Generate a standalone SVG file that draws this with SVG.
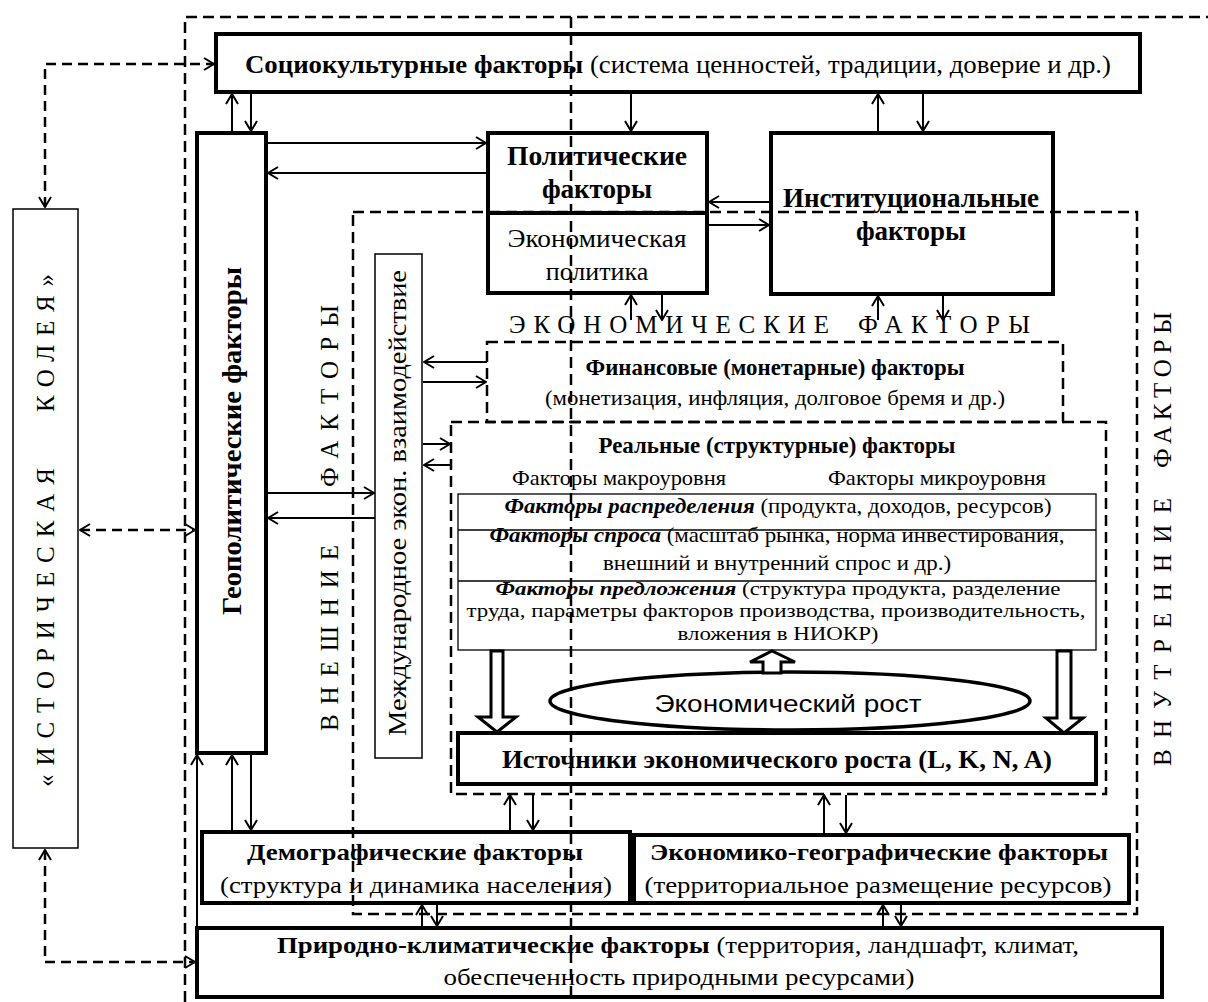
<svg xmlns="http://www.w3.org/2000/svg" width="1208" height="1002" viewBox="0 0 1208 1002">
<style>
.box{fill:none;stroke:#000;stroke-width:4}
.thin{fill:none;stroke:#000;stroke-width:1.5}
.dash{fill:none;stroke:#000;stroke-width:2.5;stroke-dasharray:11 6}
.arr{fill:none;stroke:#000;stroke-width:2;marker-end:url(#ah)}
.darr{fill:none;stroke:#000;stroke-width:2.5;stroke-dasharray:10 6;marker-start:url(#ah);marker-end:url(#ah)}
.hollow{fill:#fff;stroke:#000;stroke-width:3}
text{font-family:"Liberation Serif","Times New Roman",serif;fill:#000}
.b{font-weight:bold}
.bi{font-weight:bold;font-style:italic}
.sp{font-size:25px}
</style>
<defs>
<marker id="ah" markerUnits="userSpaceOnUse" viewBox="0 0 12 14" markerWidth="12" markerHeight="14" refX="11" refY="7" orient="auto-start-reverse">
<path d="M1,1 L11,7 L1,13" fill="none" stroke="#000" stroke-width="2" stroke-dasharray="none"/>
</marker>
</defs>
<rect width="1208" height="1002" fill="#fff"/>

<g id="regions">
<path class="dash" d="M185,1002 L185,17 L1208,17"/>
<path class="dash" d="M571,17 L571,1002"/>
<rect class="dash" x="353" y="212" width="784" height="702"/>
<rect class="dash" x="487" y="342" width="576" height="80"/>
<rect class="dash" x="451" y="422" width="655" height="372"/>
<text class="sp" transform="translate(338,731) rotate(-90)" textLength="186" lengthAdjust="spacing">ВНЕШНИЕ</text>
<text class="sp" transform="translate(338,487) rotate(-90)" textLength="182" lengthAdjust="spacing">ФАКТОРЫ</text>
<text class="sp" transform="translate(1171,766) rotate(-90)" textLength="268" lengthAdjust="spacing">ВНУТРЕННИЕ</text>
<text class="sp" transform="translate(1171,468) rotate(-90)" textLength="156" lengthAdjust="spacing">ФАКТОРЫ</text>
<text class="sp" x="509" y="333" textLength="320" lengthAdjust="spacing">ЭКОНОМИЧЕСКИЕ</text>
<text class="sp" x="858" y="333" textLength="172" lengthAdjust="spacing">ФАКТОРЫ</text>
</g>

<g id="historical">
<rect class="thin" x="13" y="209" width="65" height="639"/>
<text class="sp" transform="translate(54,787) rotate(-90)" textLength="319" lengthAdjust="spacing">«ИСТОРИЧЕСКАЯ</text>
<text class="sp" transform="translate(54,412) rotate(-90)" textLength="138" lengthAdjust="spacing">КОЛЕЯ»</text>
</g>

<g id="sociocultural">
<rect class="box" x="216" y="34" width="924" height="58"/>
<text x="245" y="73" font-size="26" textLength="866" lengthAdjust="spacingAndGlyphs"><tspan class="b">Социокультурные факторы</tspan> (система ценностей, традиции, доверие и др.)</text>
</g>

<g id="geopolitical">
<rect class="box" x="197" y="133" width="69" height="620"/>
<text class="b" font-size="27" transform="translate(241,441) rotate(-90)" text-anchor="middle" textLength="348" lengthAdjust="spacingAndGlyphs">Геополитические факторы</text>
</g>

<g id="political">
<rect class="box" x="488" y="133" width="219" height="160"/>
<line x1="488" y1="213" x2="707" y2="213" stroke="#000" stroke-width="4"/>
<text class="b" font-size="27" x="597" y="165" text-anchor="middle" textLength="180" lengthAdjust="spacingAndGlyphs">Политические</text>
<text class="b" font-size="27" x="597" y="198" text-anchor="middle">факторы</text>
<text font-size="26" x="597" y="247" text-anchor="middle" textLength="179" lengthAdjust="spacingAndGlyphs">Экономическая</text>
<text font-size="26" x="597" y="280" text-anchor="middle">политика</text>
</g>

<g id="institutional">
<rect class="box" x="771" y="133" width="282" height="161"/>
<text class="b" font-size="27" x="911" y="207" text-anchor="middle" textLength="256" lengthAdjust="spacingAndGlyphs">Институциональные</text>
<text class="b" font-size="27" x="911" y="240" text-anchor="middle">факторы</text>
</g>

<g id="international">
<rect class="thin" x="375" y="254" width="47" height="504"/>
<text font-size="25" transform="translate(406,503) rotate(-90)" text-anchor="middle" textLength="466" lengthAdjust="spacingAndGlyphs">Международное экон. взаимодействие</text>
</g>

<g id="financial">
<text class="b" font-size="23" x="775" y="375" text-anchor="middle" textLength="379" lengthAdjust="spacingAndGlyphs">Финансовые (монетарные) факторы</text>
<text font-size="22" x="775" y="405" text-anchor="middle" textLength="460" lengthAdjust="spacingAndGlyphs">(монетизация, инфляция, долговое бремя и др.)</text>
</g>

<g id="real">
<text class="b" font-size="23" x="777" y="453" text-anchor="middle" textLength="357" lengthAdjust="spacingAndGlyphs">Реальные (структурные) факторы</text>
<text font-size="22" x="512" y="485" textLength="214" lengthAdjust="spacingAndGlyphs">Факторы макроуровня</text>
<text font-size="22" x="828" y="485" textLength="218" lengthAdjust="spacingAndGlyphs">Факторы микроуровня</text>
<rect x="458" y="494" width="638" height="156" fill="none" stroke="#000" stroke-width="1.3"/>
<line x1="458" y1="530" x2="1096" y2="530" stroke="#000" stroke-width="1.3"/>
<line x1="458" y1="581" x2="1096" y2="581" stroke="#000" stroke-width="1.3"/>
<text font-size="22" x="778" y="513" text-anchor="middle" textLength="547" lengthAdjust="spacingAndGlyphs"><tspan class="bi">Факторы распределения</tspan> (продукта, доходов, ресурсов)</text>
<text font-size="22" x="777" y="542" text-anchor="middle" textLength="575" lengthAdjust="spacingAndGlyphs"><tspan class="bi">Факторы спроса</tspan> (масштаб  рынка, норма инвестирования,</text>
<text font-size="22" x="777" y="570" text-anchor="middle" textLength="348" lengthAdjust="spacingAndGlyphs">внешний и внутренний спрос и др.)</text>
<text font-size="19.5" x="778" y="595" text-anchor="middle" textLength="565" lengthAdjust="spacingAndGlyphs"><tspan class="bi">Факторы предложения</tspan> (структура  продукта,  разделение</text>
<text font-size="19.5" x="776" y="617" text-anchor="middle" textLength="619" lengthAdjust="spacingAndGlyphs">труда, параметры факторов  производства, производительность,</text>
<text font-size="19.5" x="778" y="640" text-anchor="middle" textLength="201" lengthAdjust="spacingAndGlyphs">вложения в НИОКР)</text>
</g>

<g id="growth">
<ellipse cx="790" cy="701" rx="240" ry="29" fill="none" stroke="#000" stroke-width="3.5"/>
<text style="font-family:'Liberation Sans',Arial,sans-serif" font-size="23" x="788" y="712" text-anchor="middle" textLength="267" lengthAdjust="spacingAndGlyphs">Экономический  рост</text>
</g>

<g id="sources">
<rect class="box" x="458" y="733" width="638" height="51"/>
<text class="b" font-size="26" x="777" y="768" text-anchor="middle" textLength="550" lengthAdjust="spacingAndGlyphs">Источники экономического роста (L, K, N, A)</text>
</g>

<g id="demographic">
<rect class="box" x="202" y="832" width="428" height="71"/>
<text class="b" font-size="24" x="415" y="860" text-anchor="middle" textLength="336" lengthAdjust="spacingAndGlyphs">Демографические факторы</text>
<text font-size="24" x="416" y="893" text-anchor="middle" textLength="392" lengthAdjust="spacingAndGlyphs">(структура и динамика населения)</text>
</g>

<g id="econgeo">
<rect class="box" x="634" y="835" width="495" height="68"/>
<text class="b" font-size="24" x="879" y="860" text-anchor="middle" textLength="458" lengthAdjust="spacingAndGlyphs">Экономико-географические факторы</text>
<text font-size="24" x="878" y="893" text-anchor="middle" textLength="467" lengthAdjust="spacingAndGlyphs">(территориальное размещение ресурсов)</text>
</g>

<g id="natural">
<rect class="box" x="197" y="928" width="965" height="69"/>
<text font-size="24" x="277" y="953" textLength="802" lengthAdjust="spacingAndGlyphs"><tspan class="b">Природно-климатические факторы</tspan> (территория, ландшафт, климат,</text>
<text font-size="24" x="679" y="985" text-anchor="middle" textLength="471" lengthAdjust="spacingAndGlyphs">обеспеченность природными ресурсами)</text>
</g>

<g id="connectors">
<path class="arr" d="M232,133 L232,94"/>
<path class="arr" d="M251,94 L251,131"/>
<path class="arr" d="M631,94 L631,131"/>
<path class="arr" d="M878,131 L878,94"/>
<path class="arr" d="M923,94 L923,131"/>
<path class="arr" d="M268,143 L486,143"/>
<path class="arr" d="M486,173 L268,173"/>
<path class="arr" d="M769,202 L709,202"/>
<path class="arr" d="M709,225 L769,225"/>
<path class="arr" d="M631,320 L631,295"/>
<path class="arr" d="M662,295 L662,320"/>
<path class="arr" d="M878,320 L878,296"/>
<path class="arr" d="M943,296 L943,320"/>
<path class="arr" d="M487,362 L424,362"/>
<path class="arr" d="M423,382 L486,382"/>
<path class="arr" d="M423,444 L450,444"/>
<path class="arr" d="M451,465 L424,465"/>
<path class="arr" d="M268,493 L374,493"/>
<path class="arr" d="M375,518 L268,518"/>
<path class="arr" d="M232,830 L232,755"/>
<path class="arr" d="M251,755 L251,830"/>
<path class="arr" d="M510,830 L510,795"/>
<path class="arr" d="M533,795 L533,830"/>
<path class="arr" d="M824,833 L824,795"/>
<path class="arr" d="M846,795 L846,833"/>
<path class="arr" d="M422,926 L422,905"/>
<path class="arr" d="M437,905 L437,926"/>
<path class="arr" d="M883,926 L883,905"/>
<path class="arr" d="M901,905 L901,926"/>
<path class="arr" d="M197,926 L197,755"/>
<path class="darr" d="M45,207 L45,64 L214,64"/>
<path class="darr" d="M80,530 L195,530"/>
<path class="darr" d="M45,850 L45,962 L195,962"/>
<polygon class="hollow" points="491,651 491,717 478,717 497,732 516,717 503,717 503,651"/>
<polygon class="hollow" points="1057,651 1057,718 1046,718 1064,733 1083,718 1071,718 1071,651"/>
<polygon class="hollow" points="763,673 763,662 750,662 772,651 795,662 781,662 781,673"/>
</g>
</svg>
